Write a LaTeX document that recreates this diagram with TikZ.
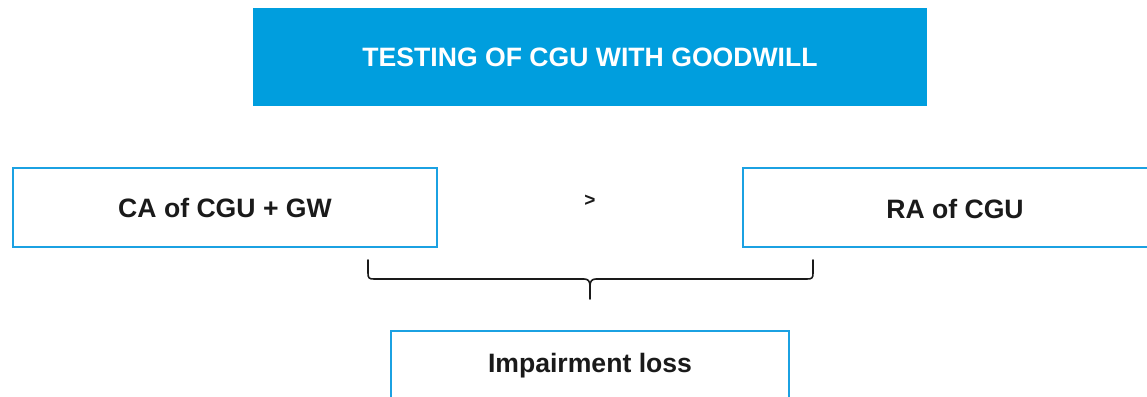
\documentclass[tikz,border=0pt]{standalone}
\usepackage{fontspec}
\setmainfont{Liberation Sans}
\definecolor{titleblue}{RGB}{0,158,222}
\definecolor{edgeblue}{RGB}{27,161,226}
\definecolor{ink}{RGB}{26,26,26}
\begin{document}
\begin{tikzpicture}[x=1pt,y=-1pt,
  banner/.style={fill=titleblue,draw=none,text=white,font=\bfseries\fontsize{26.6}{30}\selectfont,
    minimum width=674pt,minimum height=98pt,inner sep=0pt},
  frame/.style={draw=edgeblue,line width=1.6pt,fill=white,text=ink,
    font=\bfseries\fontsize{26.6}{30}\selectfont,inner sep=0pt},
  label/.style={text=ink,font=\bfseries\fontsize{26.6}{30}\selectfont,inner sep=0pt},
  bracket/.style={draw=ink,line width=1.6pt,line cap=round,line join=round}]
\useasboundingbox (0,0) rectangle (1147,396);
\clip (0,0) rectangle (1147,396);
% heading
\node[banner] (title) at (590,57) {TESTING OF CGU WITH GOODWILL};
% the two amounts being compared
\node[frame,minimum width=424pt,minimum height=79pt] (ca) at (225,207.5) {CA of CGU + GW};
\node[frame,minimum width=420pt,minimum height=79pt] (ra) at (953,207.5) {};
\node[label] (raText) at (955,209) {RA of CGU};
\node[text=ink,font=\bfseries\fontsize{19}{22}\selectfont] (gt) at (590,201) {>};
% result
\node[frame,minimum width=398pt,minimum height=80pt] (loss) at (590,371) {};
\node[label] (lossText) at (590,366) {Impairment loss};
% brace joining the comparison to the result
\coordinate (bl) at (368,260);
\coordinate (br) at (813,260);
\coordinate (bt) at (590,299);
\draw[bracket] (bl) -- (368,273) .. controls (368,278) and (369,279) .. (374,279)
  -- (584,279) .. controls (588,279) and (590,281) .. (590,286) -- (bt);
\draw[bracket] (br) -- (813,273) .. controls (813,278) and (812,279) .. (807,279)
  -- (596,279) .. controls (592,279) and (590,281) .. (590,286);
\end{tikzpicture}
\end{document}
